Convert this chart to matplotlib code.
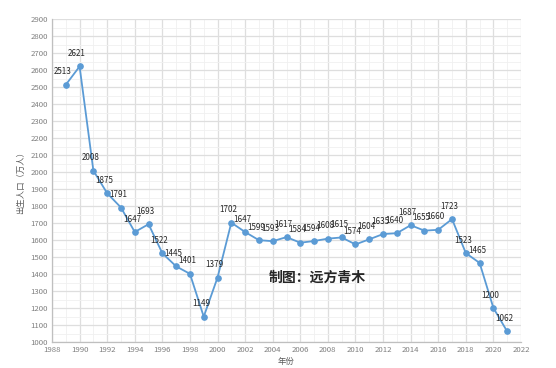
import numpy as np
from matplotlib import pyplot as plt
from matplotlib.ticker import MultipleLocator

plt.rcParams['font.family'] = ['Noto Sans CJK SC', 'DejaVu Sans']

# births in China, 10k people
years = list(range(1989, 2022))
births = [2513, 2621, 2008, 1875, 1791, 1647, 1693, 1522, 1445, 1401, 1149,
          1379, 1702, 1647, 1599, 1593, 1617, 1584, 1594, 1608, 1615, 1574,
          1604, 1635, 1640, 1687, 1655, 1660, 1723, 1523, 1465, 1200, 1062]

fig = plt.figure(figsize=(5.56, 3.68), dpi=100)
ax = fig.add_axes([52/556, 26/368, 469/556, 323/368])

ax.plot(years, births, color='#5b9bd5', lw=1.3, marker='o', ms=3.8, zorder=3)
for x, y in zip(years, births):
    ax.annotate(str(y), (x, y), xytext=(-2, 6), textcoords='offset points',
                ha='center', va='bottom', fontsize=5.8, color='#262626', zorder=4)

ax.set_xlim(1988, 2022)
ax.set_ylim(1000, 2900)
ax.xaxis.set_major_locator(MultipleLocator(2))
ax.xaxis.set_minor_locator(MultipleLocator(1))
ax.yaxis.set_major_locator(MultipleLocator(100))
ax.yaxis.set_minor_locator(MultipleLocator(50))
ax.grid(which='major', color='#dedede', lw=0.9)
ax.grid(which='minor', color='#f0f0f0', lw=0.6)
ax.set_axisbelow(True)
ax.tick_params(which='both', length=0, labelsize=5.6, labelcolor='#7f7f7f', pad=3)
for s in ['top', 'right']:
    ax.spines[s].set_visible(False)
for s in ['left', 'bottom']:
    ax.spines[s].set_color('#bfbfbf')
    ax.spines[s].set_linewidth(0.9)

ax.set_xlabel('年份', fontsize=6, color='#595959', labelpad=2)
ax.set_ylabel('出生人口（万人）', fontsize=6, color='#595959', labelpad=4)

ax.text(2003.7, 1380, '制图：远方青木', fontsize=10, fontweight='bold',
        color='#262626', va='center', ha='left')

plt.savefig('out.png', dpi=100)
